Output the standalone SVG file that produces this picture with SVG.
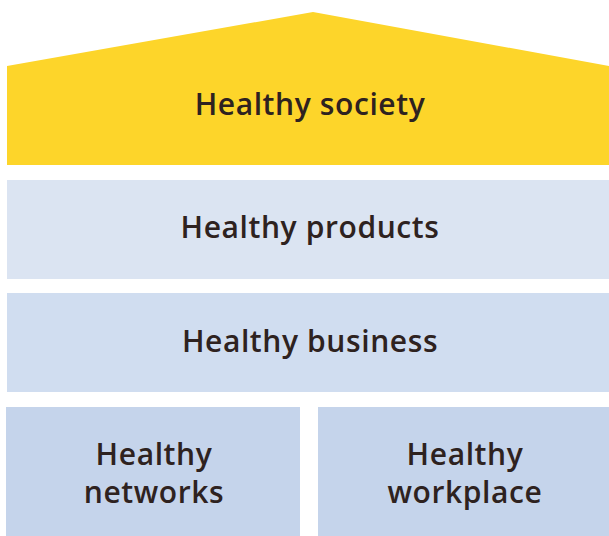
<svg xmlns="http://www.w3.org/2000/svg" width="609" height="536" viewBox="0 0 609 536">
  <style>
    .lbl { font-family: "Open Sans", "Liberation Sans", sans-serif; font-size: 30px; font-weight: 600; letter-spacing: 0.6px; fill: #2e2220; text-anchor: middle; }
  </style>
  <rect width="609" height="536" fill="#ffffff"/>
  <g id="society">
    <polygon points="7,66 313,12 609,66 609,165 7,165" fill="#fdd52a"/>
    <text class="lbl" x="310" y="115">Healthy society</text>
  </g>
  <g id="products">
    <rect x="7" y="180" width="602" height="99" fill="#dbe4f2"/>
    <text class="lbl" x="310" y="238">Healthy products</text>
  </g>
  <g id="business">
    <rect x="7" y="293" width="602" height="99" fill="#d0ddf0"/>
    <text class="lbl" x="310" y="352">Healthy business</text>
  </g>
  <g id="networks">
    <rect x="6" y="407" width="294" height="129" fill="#c5d4eb"/>
    <text class="lbl" x="154" y="465">Healthy</text>
    <text class="lbl" x="154" y="503">networks</text>
  </g>
  <g id="workplace">
    <rect x="318" y="407" width="291" height="129" fill="#c5d4eb"/>
    <text class="lbl" x="465" y="465">Healthy</text>
    <text class="lbl" x="465" y="503">workplace</text>
  </g>
  <g id="connectors"></g>
</svg>
